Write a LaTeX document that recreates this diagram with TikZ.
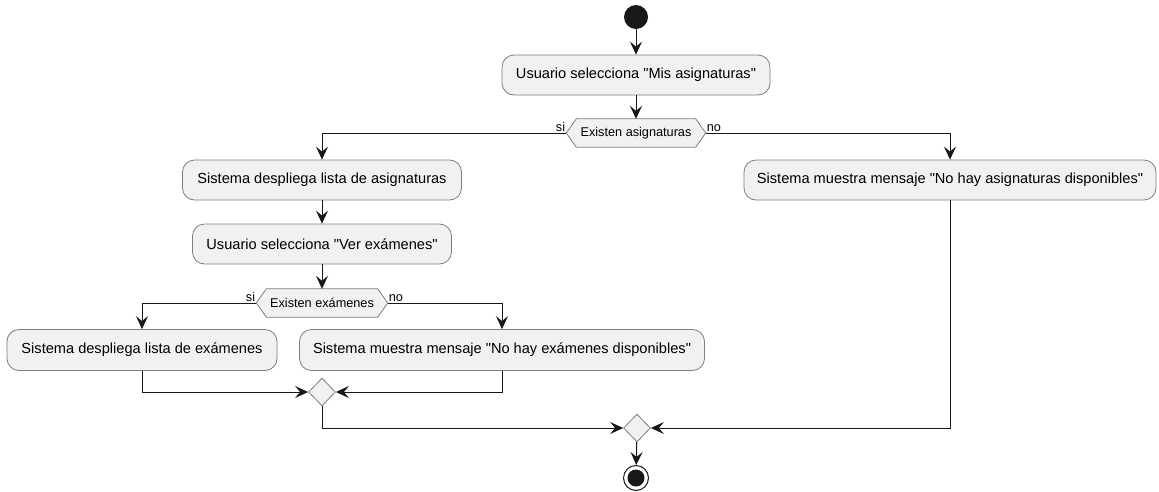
\documentclass[tikz,border=0pt]{standalone}
\usepackage{fontspec}
\setmainfont{Liberation Sans}[Ligatures=TeXOff]
\usetikzlibrary{arrows.meta,backgrounds,shapes.geometric}
\definecolor{actfill}{HTML}{F1F1F1}
\definecolor{actline}{HTML}{181818}
\definecolor{actedge}{HTML}{7E7E7E}
\tikzset{
  actbox/.style={draw=actedge, line width=0.8pt, fill=actfill, rounded corners=12pt,
    minimum height=40pt, inner sep=0pt, font=\fontsize{14.6}{17}\selectfont},
  hexbox/.style={inner sep=0pt, minimum height=28pt, font=\fontsize{12.7}{15}\selectfont},
  merge/.style={draw=actedge, line width=0.8pt, fill=actfill, shape=diamond, inner sep=0pt,
    minimum width=27pt, minimum height=28pt},
  flow/.style={draw=actline, line width=1pt, -{Stealth[length=13pt,width=12pt,inset=5pt]}},
  guard/.style={font=\fontsize{12.7}{15}\selectfont, inner sep=1pt}
}
\begin{document}
\begin{tikzpicture}[x=1pt,y=-1pt]
\useasboundingbox (0,0) rectangle (1159,491);

% start and end points
\node[circle, fill=actline, minimum size=24pt, inner sep=0pt] (start) at (636,17) {};
\node[circle, draw=actline, line width=1pt, fill=white, minimum size=25pt, inner sep=0pt] (stop) at (636,478) {};
\fill[actline] (stop) circle (8.5pt);

% activities
\node[actbox, minimum width=268pt] (b1) at (636,75) {Usuario selecciona "Mis asignaturas"};
\node[actbox, minimum width=279pt] (b2) at (322,180) {Sistema despliega lista de asignaturas};
\node[actbox, minimum width=412pt] (br) at (950,180) {Sistema muestra mensaje "No hay asignaturas disponibles"};
\node[actbox, minimum width=259pt] (b3) at (322,244) {Usuario selecciona "Ver exámenes"};
\node[actbox, minimum width=270pt, minimum height=41pt] (b4) at (142,350) {Sistema despliega lista de exámenes};
\node[actbox, minimum width=405pt, minimum height=41pt] (b5) at (502,350) {Sistema muestra mensaje "No hay exámenes disponibles"};

% decisions
\node[hexbox, minimum width=139pt] (d1) at (636,133) {Existen asignaturas};
\node[hexbox, minimum width=131pt] (d2) at (322,303) {Existen exámenes};
\begin{scope}[on background layer]
  \foreach \d in {d1,d2}{
    \draw[draw=actedge, line width=0.8pt, fill=actfill]
      (\d.west) -- ([xshift=10pt]\d.north west) -- ([xshift=-10pt]\d.north east)
      -- (\d.east) -- ([xshift=-10pt]\d.south east) -- ([xshift=10pt]\d.south west) -- cycle;
  }
\end{scope}

% merges
\node[merge] (m1) at (322,392) {};
\node[merge] (m2) at (637,428) {};

% flow
\draw[flow] (start) -- (b1);
\draw[flow] (b1) -- (d1);
\draw[flow] (d1.west) -| (b2.north);
\node[guard, anchor=south east] at (d1.west) {si};
\draw[flow] (d1.east) -| (br.north);
\node[guard, anchor=south west] at (d1.east) {no};
\draw[flow] (b2) -- (b3);
\draw[flow] (b3) -- (d2);
\draw[flow] (d2.west) -| (b4.north);
\node[guard, anchor=south east] at (d2.west) {si};
\draw[flow] (d2.east) -| (b5.north);
\node[guard, anchor=south west] at (d2.east) {no};
\draw[flow] (b4.south) |- (m1.west);
\draw[flow] (b5.south) |- (m1.east);
\draw[flow] (m1.south) |- (m2.west);
\draw[flow] (br.south) |- (m2.east);
\draw[flow] (m2) -- (stop);
\end{tikzpicture}
\end{document}
